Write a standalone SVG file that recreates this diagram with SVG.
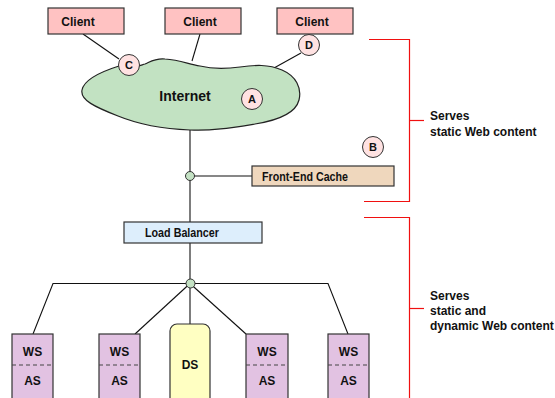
<svg xmlns="http://www.w3.org/2000/svg" width="555" height="398" viewBox="0 0 555 398">
<style>
text{font-family:"Liberation Sans",Arial,sans-serif;fill:#111}
.b{font-weight:bold}
.ln{stroke:#111;stroke-width:1.1;fill:none}
.client{fill:#ffc2c2;stroke:#333;stroke-width:1.2}
.mark{fill:#ffe2e2;stroke:#333;stroke-width:1}
.srv{fill:#e2c2e2;stroke:#333;stroke-width:1.2}
.dot{fill:#c4e2c4;stroke:#333;stroke-width:1}
</style>
<rect width="555" height="398" fill="#fff"/>
<g id="connectors">
<line class="ln" x1="83" y1="34" x2="119" y2="59"/>
<line class="ln" x1="200" y1="34" x2="192" y2="61"/>
<line class="ln" x1="301" y1="53" x2="274" y2="68"/>
<line class="ln" x1="190" y1="130" x2="190" y2="222"/>
<line class="ln" x1="190" y1="176" x2="252" y2="176"/>
<line class="ln" x1="190" y1="243" x2="190" y2="324"/>
<polyline class="ln" points="33,334 53,283.5 328,283.5 348,334"/>
<line class="ln" x1="190" y1="283.5" x2="135" y2="334"/>
<line class="ln" x1="190" y1="283.5" x2="246" y2="334"/>
</g>
<g id="internet">
<path d="M119,66 C128,70 138,66 145,64 C150,62 155,58 165,59 C180,60 188,64 200,66 C212,69 225,69 240,67 C255,65 268,64 282,70 C296,76 302,88 299,100 C296,112 280,120 255,124 C230,128 212,131 190,130 C165,129 140,125 118,116 C95,107 80,100 82,90 C84,80 100,72 119,66 Z" fill="#c2e2c2" stroke="#222" stroke-width="1.2"/>
<text x="185" y="101" class="b" font-size="14" text-anchor="middle">Internet</text>
</g>
<g id="client1"><rect class="client" x="48" y="8" width="76" height="26"/><text x="78" y="26" class="b" font-size="12" text-anchor="middle">Client</text></g>
<g id="client2"><rect class="client" x="165" y="8" width="76" height="26"/><text x="200" y="26" class="b" font-size="12" text-anchor="middle">Client</text></g>
<g id="client3"><rect class="client" x="277" y="8" width="76" height="26"/><text x="312" y="26" class="b" font-size="12" text-anchor="middle">Client</text></g>
<g id="markC"><circle class="mark" cx="129" cy="65" r="10.5"/><text x="129" y="69" class="b" font-size="11" text-anchor="middle">C</text></g>
<g id="markD"><circle class="mark" cx="309" cy="45" r="10.5"/><text x="309" y="49" class="b" font-size="11" text-anchor="middle">D</text></g>
<g id="markA"><circle class="mark" cx="252" cy="99" r="10.5"/><text x="252" y="103" class="b" font-size="11" text-anchor="middle">A</text></g>
<g id="markB"><circle class="mark" cx="373" cy="147" r="10.5"/><text x="373" y="151" class="b" font-size="11" text-anchor="middle">B</text></g>
<g id="dot1"><circle class="dot" cx="190" cy="176" r="4.5"/></g>
<g id="cache"><rect x="252" y="166" width="142" height="20" fill="#efd7bd" stroke="#333" stroke-width="1.2"/><text x="262" y="181" font-size="12" class="b" textLength="86" lengthAdjust="spacingAndGlyphs">Front-End Cache</text></g>
<g id="lb"><rect x="124" y="222" width="138" height="21" fill="#ddeefc" stroke="#333" stroke-width="1.2"/><text x="145" y="237" font-size="12" class="b" textLength="74" lengthAdjust="spacingAndGlyphs">Load Balancer</text></g>
<g id="dot2"><circle class="dot" cx="190.5" cy="283.5" r="4.5"/></g>
<g id="ds"><rect x="170" y="324" width="40" height="84" rx="7" fill="#ffffc2" stroke="#333" stroke-width="1.2"/><text x="190" y="369" class="b" font-size="12" text-anchor="middle">DS</text></g>
<g id="srv1"><rect class="srv" x="12" y="334" width="41" height="70"/><line x1="12" y1="365" x2="53" y2="365" stroke="#444" stroke-dasharray="4,3"/><text x="32.5" y="356" class="b" font-size="12" text-anchor="middle">WS</text><text x="32.5" y="385" class="b" font-size="12" text-anchor="middle">AS</text></g>
<g id="srv2"><rect class="srv" x="99" y="334" width="41" height="70"/><line x1="99" y1="365" x2="140" y2="365" stroke="#444" stroke-dasharray="4,3"/><text x="119.5" y="356" class="b" font-size="12" text-anchor="middle">WS</text><text x="119.5" y="385" class="b" font-size="12" text-anchor="middle">AS</text></g>
<g id="srv3"><rect class="srv" x="246" y="334" width="42" height="70"/><line x1="246" y1="365" x2="288" y2="365" stroke="#444" stroke-dasharray="4,3"/><text x="267" y="356" class="b" font-size="12" text-anchor="middle">WS</text><text x="267" y="385" class="b" font-size="12" text-anchor="middle">AS</text></g>
<g id="srv4"><rect class="srv" x="328" y="334" width="41" height="70"/><line x1="328" y1="365" x2="369" y2="365" stroke="#444" stroke-dasharray="4,3"/><text x="348.5" y="356" class="b" font-size="12" text-anchor="middle">WS</text><text x="348.5" y="385" class="b" font-size="12" text-anchor="middle">AS</text></g>
<g id="bracket1" stroke="#f01010" stroke-width="1.2" fill="none">
<polyline points="369,39.5 409.5,39.5 409.5,201.5 364,201.5"/>
<line x1="409.5" y1="120.5" x2="424" y2="120.5"/>
</g>
<g id="label1">
<text x="430" y="120" font-size="12" class="b">Serves</text>
<text x="430" y="136" font-size="12" class="b">static Web content</text>
</g>
<g id="bracket2" stroke="#f01010" stroke-width="1.2" fill="none">
<polyline points="364,217.5 409.5,217.5 409.5,398"/>
<line x1="409.5" y1="308.5" x2="424" y2="308.5"/>
</g>
<g id="label2">
<text x="430" y="300" font-size="12" class="b">Serves</text>
<text x="430" y="315" font-size="12" class="b">static and</text>
<text x="430" y="330" font-size="12" class="b">dynamic Web content</text>
</g>
</svg>
